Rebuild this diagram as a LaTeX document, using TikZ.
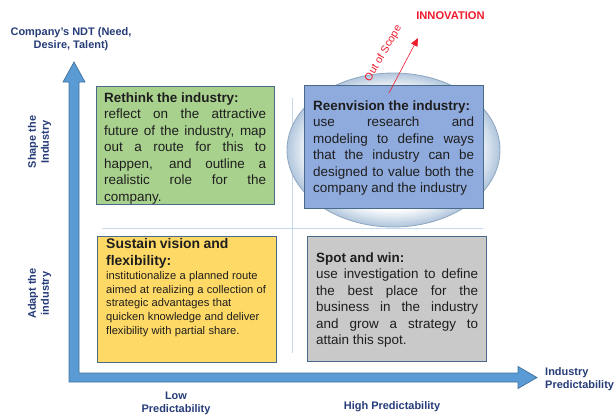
\documentclass[tikz,border=0pt]{standalone}
\usepackage{fontspec}
\setmainfont{Liberation Sans}
\usetikzlibrary{arrows.meta,calc}

\definecolor{axisfill}{HTML}{5B9BD5}
\definecolor{axisedge}{HTML}{41719C}
\definecolor{boxedge}{HTML}{4A6A8C}
\definecolor{greenq}{HTML}{A9D18E}
\definecolor{blueq}{HTML}{8FAADC}
\definecolor{yellowq}{HTML}{FFD966}
\definecolor{grayq}{HTML}{C9C9C9}
\definecolor{navy}{HTML}{263C78}
\definecolor{ink}{HTML}{1E1E1E}
\definecolor{scopered}{HTML}{EE1C2E}
\definecolor{guide}{HTML}{C5DAEF}
\definecolor{lensedge}{HTML}{8FA6C0}
\definecolor{lensrim}{HTML}{B4C8DE}

\begin{document}
\begin{tikzpicture}[x=1bp,y=-1bp,
  quad/.style={draw=boxedge, line width=0.9bp, inner sep=0pt, anchor=north west},
  body/.style={anchor=north west, inner sep=0pt, text width=#1, align=justify,
    font=\fontsize{13.5}{16.5}\selectfont, text=ink,
    execute at begin node={\hyphenpenalty=10000\tolerance=9999}},
  axislabel/.style={font=\bfseries\fontsize{11}{13}\selectfont, text=navy, inner sep=0pt, align=center},
  guideline/.style={draw=guide, line width=0.8bp}]

\useasboundingbox (0,0) rectangle (615,416);

% faint quadrant dividers
\coordinate (vtop) at (292,98);
\coordinate (vbot) at (292,353);
\coordinate (hleft) at (102,228);
\coordinate (hright) at (483,228);
\draw[guideline] (vtop) -- (vbot);
\draw[guideline] (hleft) -- (hright);

% lens: concentric fills fading from the rim to a white centre
\foreach \k in {0,...,12} {
  \pgfmathsetmacro\lensscale{1-\k*0.018}
  \pgfmathsetmacro\lenswhite{min(100,\k*8.5)}
  \fill[white!\lenswhite!lensrim] (393.5,150) ellipse [x radius=106.5*\lensscale, y radius=77*\lensscale];
}
\draw[lensedge, line width=0.8bp] (393.5,150) ellipse [x radius=106.5, y radius=77];

% axes: one L-shaped double arrow
\filldraw[fill=axisfill, draw=axisedge, line width=0.7bp, line join=miter]
  (69,82) -- (63,82) -- (74,62) -- (85,82) -- (79,82) -- (79,373) -- (518,373)
  -- (518,366.5) -- (537,377.5) -- (518,388.5) -- (518,382) -- (69,382) -- cycle;

% quadrants
\node[quad, fill=greenq, minimum width=178bp, minimum height=118bp] (rethink) at (96,86) {};
\node[quad, fill=blueq, minimum width=179bp, minimum height=123bp] (reenvision) at (304,85) {};
\node[quad, fill=yellowq, minimum width=179bp, minimum height=126bp] (sustain) at (97,236) {};
\node[quad, fill=grayq, minimum width=179bp, minimum height=125bp] (spot) at (307,236) {};

\node[body=162bp] (rethinktext) at (104,92.5) {\textbf{Rethink the industry:}\\
reflect on the attractive\linebreak
future of the industry, map\linebreak
out a route for this to\linebreak
happen, and outline a\linebreak
realistic role for the\linebreak
company.};

\node[body=161bp] (reenvisiontext) at (313,100.5) {\textbf{Reenvision the industry:}\\
use research and\linebreak
modeling to define ways\linebreak
that the industry can be\linebreak
designed to value both the\linebreak
company and the industry};

\node[body=162bp] (spottext) at (316,252.5) {\textbf{Spot and win:}\\
use investigation to define\linebreak
the best place for the\linebreak
business in the industry\linebreak
and grow a strategy to\linebreak
attain this spot.};

\node[anchor=north west, inner sep=0pt, text width=165bp, align=left, text=ink] (sustaintext) at (106,238.5)
  {{\bfseries\fontsize{14}{17}\selectfont Sustain vision and\\ flexibility:\par}
   {\fontsize{11.2}{13.8}\selectfont institutionalize a planned route\\
   aimed at realizing a collection of\\
   strategic advantages that\\
   quicken knowledge and deliver\\
   flexibility with partial share.\par}};

% out of scope pointer
\coordinate (scopefoot) at (389,93);
\coordinate (scopetip) at (418,38);
\draw[scopered, line width=0.6bp, -{Triangle[length=8bp,width=7bp]}] (scopefoot) -- (scopetip);
\node[rotate=60, text=scopered, font=\fontsize{10.8}{12}\selectfont, inner sep=0pt] (scope) at (383.5,53.5) {Out of Scope};
\node[text=scopered, font=\bfseries\fontsize{11.2}{13}\selectfont, inner sep=0pt] (innovation) at (450.5,16) {INNOVATION};

% axis labels
\node[axislabel] (ndt) at (71,39.5) {Company’s NDT (Need,\\ Desire, Talent)};
\node[axislabel, rotate=90] (shape) at (39.5,142) {Shape the\\ Industry};
\node[axislabel, rotate=90] (adapt) at (39.5,293.5) {Adapt the\\ industry};
\node[axislabel] (low) at (176,403) {Low\\ Predictability};
\node[axislabel] (high) at (392,407) {High Predictability};
\node[axislabel, anchor=west, align=left] (pred) at (545,379) {Industry\\ Predictability};

\end{tikzpicture}
\end{document}
